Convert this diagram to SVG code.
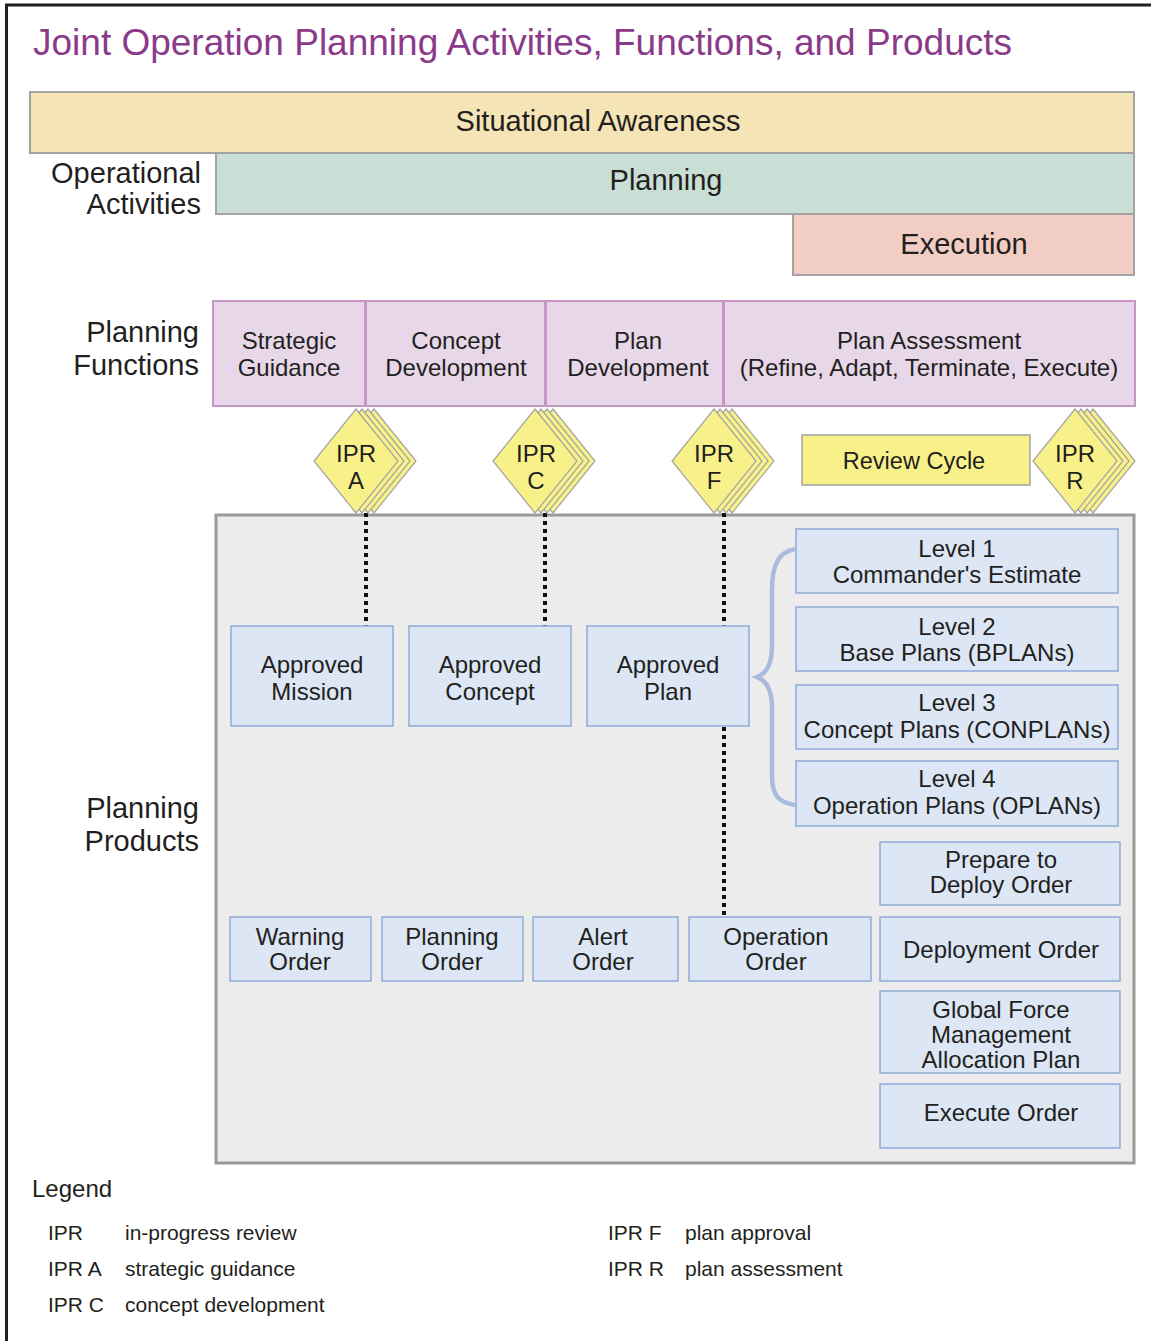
<svg xmlns="http://www.w3.org/2000/svg" width="1151" height="1341" viewBox="0 0 1151 1341">
<style>
text{font-family:"Liberation Sans",Arial,sans-serif;fill:#231f20}
.c{text-anchor:middle}
.r{text-anchor:end}
.t24{font-size:24px}
.t22{font-size:24px}
.t28{font-size:29px}
.lg{font-size:21px}
.band{stroke:#a3a3a3;stroke-width:2}
.fn{fill:#e7d7e9;stroke:#c497c7;stroke-width:2}
.prod{fill:#dce6f4;stroke:#8eaad8;stroke-width:1.5}
.dia{fill:#f8f18a;stroke:#a3a3a3;stroke-width:1.2}
.dot{stroke:#111;stroke-width:4;stroke-dasharray:4 4;fill:none}
</style>
<defs>
<polygon id="d" points="0,-52 42,0 0,52 -42,0"/>
<g id="stack">
<use href="#d" x="18" class="dia"/>
<use href="#d" x="12" class="dia"/>
<use href="#d" x="6" class="dia"/>
<use href="#d" x="0" class="dia"/>
</g>
</defs>
<rect width="1151" height="1341" fill="#fff"/>
<path d="M6.5,1341 V5 H1151" fill="none" stroke="#231f20" stroke-width="3"/>
<text x="33" y="55" style="font-size:37px;fill:#8b3a8b">Joint Operation Planning Activities, Functions, and Products</text>

<g id="activities">
<rect x="30" y="92" width="1104" height="61" fill="#f5e4b6" class="band"/>
<text x="598" y="131" class="c" style="font-size:29px">Situational Awareness</text>
<rect x="216" y="153" width="918" height="61" fill="#c9ded5" class="band"/>
<text x="666" y="190" class="c" style="font-size:29px">Planning</text>
<rect x="793" y="214" width="341" height="61" fill="#f2cdc3" class="band"/>
<text x="964" y="254" class="c" style="font-size:29px">Execution</text>
<text x="201" y="183" class="r t28">Operational</text>
<text x="201" y="214" class="r t28">Activities</text>
</g>

<g id="functions">
<text x="199" y="342" class="r t28">Planning</text>
<text x="199" y="375" class="r t28">Functions</text>
<g id="fn-strategic"><rect x="213" y="301" width="152" height="105" class="fn"/>
<text x="289" y="349" class="c t22">Strategic</text><text x="289" y="376" class="c t22">Guidance</text></g>
<g id="fn-concept"><rect x="366" y="301" width="179" height="105" class="fn"/>
<text x="456" y="349" class="c t22">Concept</text><text x="456" y="376" class="c t22">Development</text></g>
<g id="fn-plan"><rect x="546" y="301" width="177" height="105" class="fn"/>
<text x="638" y="349" class="c t22">Plan</text><text x="638" y="376" class="c t22">Development</text></g>
<g id="fn-assess"><rect x="724" y="301" width="411" height="105" class="fn"/>
<text x="929" y="349" class="c t22">Plan Assessment</text><text x="929" y="376" class="c t22">(Refine, Adapt, Terminate, Execute)</text></g>
</g>

<g id="panel">
<rect x="216" y="515" width="918" height="648" fill="#ececec" stroke="#9a9a9a" stroke-width="3"/>
<text x="199" y="818" class="r t28">Planning</text>
<text x="199" y="851" class="r t28">Products</text>
</g>

<g id="connectors">
<line x1="366" y1="513" x2="366" y2="626" class="dot"/>
<line x1="545" y1="513" x2="545" y2="626" class="dot"/>
<line x1="724" y1="513" x2="724" y2="626" class="dot"/>
<line x1="724" y1="727" x2="724" y2="917" class="dot"/>
<path d="M795,549 C779,552 772,564 772,590 L772,645 C772,664 767,673 757,677 C767,681 772,690 772,709 L772,775 C772,797 779,802 795,805" fill="none" stroke="#a9bbdf" stroke-width="4.5"/>
</g>

<g id="ipr-a"><use href="#stack" x="356" y="461"/>
<text x="356" y="462" class="c t24">IPR</text><text x="356" y="489" class="c t24">A</text></g>
<g id="ipr-c"><use href="#stack" x="535" y="461"/>
<text x="536" y="462" class="c t24">IPR</text><text x="536" y="489" class="c t24">C</text></g>
<g id="ipr-f"><use href="#stack" x="714" y="461"/>
<text x="714" y="462" class="c t24">IPR</text><text x="714" y="489" class="c t24">F</text></g>
<g id="review-cycle"><rect x="802" y="435" width="228" height="50" fill="#f8f18a" stroke="#a3a3a3" stroke-width="1.5"/>
<text x="914" y="469" class="c" style="font-size:23.5px">Review Cycle</text></g>
<g id="ipr-r"><use href="#stack" x="1075" y="461"/>
<text x="1075" y="462" class="c t24">IPR</text><text x="1075" y="489" class="c t24">R</text></g>

<g id="approved-mission"><rect x="231" y="626" width="162" height="100" class="prod"/>
<text x="312" y="673" class="c t24">Approved</text><text x="312" y="700" class="c t24">Mission</text></g>
<g id="approved-concept"><rect x="409" y="626" width="162" height="100" class="prod"/>
<text x="490" y="673" class="c t24">Approved</text><text x="490" y="700" class="c t24">Concept</text></g>
<g id="approved-plan"><rect x="587" y="626" width="162" height="100" class="prod"/>
<text x="668" y="673" class="c t24">Approved</text><text x="668" y="700" class="c t24">Plan</text></g>

<g id="level1"><rect x="796" y="529" width="322" height="64" class="prod"/>
<text x="957" y="557" class="c t22">Level 1</text><text x="957" y="583" class="c t22">Commander's Estimate</text></g>
<g id="level2"><rect x="796" y="607" width="322" height="64" class="prod"/>
<text x="957" y="635" class="c t22">Level 2</text><text x="957" y="661" class="c t22">Base Plans (BPLANs)</text></g>
<g id="level3"><rect x="796" y="685" width="322" height="64" class="prod"/>
<text x="957" y="711" class="c t22">Level 3</text><text x="957" y="738" class="c t22">Concept Plans (CONPLANs)</text></g>
<g id="level4"><rect x="796" y="761" width="322" height="65" class="prod"/>
<text x="957" y="787" class="c t22">Level 4</text><text x="957" y="814" class="c t22">Operation Plans (OPLANs)</text></g>

<g id="ptdo"><rect x="880" y="842" width="240" height="63" class="prod"/>
<text x="1001" y="868" class="c t22">Prepare to</text><text x="1001" y="893" class="c t22">Deploy Order</text></g>
<g id="deployment-order"><rect x="880" y="917" width="240" height="64" class="prod"/>
<text x="1001" y="958" class="c t22">Deployment Order</text></g>
<g id="gfmap"><rect x="880" y="991" width="240" height="82" class="prod"/>
<text x="1001" y="1018" class="c t22">Global Force</text><text x="1001" y="1043" class="c t22">Management</text><text x="1001" y="1068" class="c t22">Allocation Plan</text></g>
<g id="execute-order"><rect x="880" y="1084" width="240" height="64" class="prod"/>
<text x="1001" y="1121" class="c t22">Execute Order</text></g>

<g id="warning-order"><rect x="230" y="917" width="141" height="64" class="prod"/>
<text x="300" y="945" class="c t22">Warning</text><text x="300" y="970" class="c t22">Order</text></g>
<g id="planning-order"><rect x="382" y="917" width="141" height="64" class="prod"/>
<text x="452" y="945" class="c t22">Planning</text><text x="452" y="970" class="c t22">Order</text></g>
<g id="alert-order"><rect x="533" y="917" width="145" height="64" class="prod"/>
<text x="603" y="945" class="c t22">Alert</text><text x="603" y="970" class="c t22">Order</text></g>
<g id="operation-order"><rect x="689" y="917" width="182" height="64" class="prod"/>
<text x="776" y="945" class="c t22">Operation</text><text x="776" y="970" class="c t22">Order</text></g>

<g id="legend">
<text x="32" y="1197" class="t24">Legend</text>
<text x="48" y="1240" class="lg">IPR</text><text x="125" y="1240" class="lg">in-progress review</text>
<text x="48" y="1276" class="lg">IPR A</text><text x="125" y="1276" class="lg">strategic guidance</text>
<text x="48" y="1312" class="lg">IPR C</text><text x="125" y="1312" class="lg">concept development</text>
<text x="608" y="1240" class="lg">IPR F</text><text x="685" y="1240" class="lg">plan approval</text>
<text x="608" y="1276" class="lg">IPR R</text><text x="685" y="1276" class="lg">plan assessment</text>
</g>
</svg>
